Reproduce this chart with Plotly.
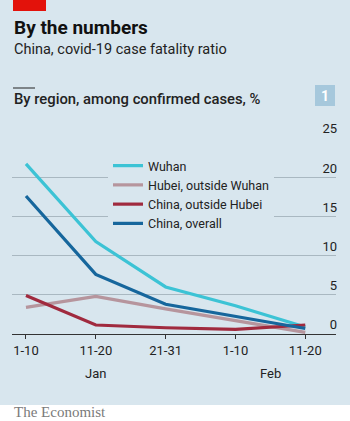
import plotly.graph_objects as go

periods = ["1-10", "11-20", "21-31", "1-10", "11-20"]
months = ["Jan", "Feb"]
month_pos = [1, 3.5]

wuhan = [21.7, 11.8, 6.0, 3.6, 0.9]
hubei_outside_wuhan = [3.4, 4.8, 3.2, 1.7, 0.2]
china_outside_hubei = [4.9, 1.15, 0.8, 0.6, 1.15]
china_overall = [17.6, 7.6, 3.8, 2.3, 0.7]

series_names = ["Wuhan", "Hubei, outside Wuhan", "China, outside Hubei", "China, overall"]
series_values = [wuhan, hubei_outside_wuhan, china_outside_hubei, china_overall]
series_colors = ["#3cc3d5", "#b6959d", "#a02a3e", "#16669c"]

y_ticks = [0, 5, 10, 15, 20, 25]

BG = "#d8e6ee"
TXT = "#222222"
FONT = "Roboto"

W, H = 350, 421
L, R, T, B = 12, 14, 138, 87
plot_top, plot_bot = T, H - B
plot_left, plot_right = L, W - R


def px(p):
    return (p - plot_left) / (plot_right - plot_left)


def py(p):
    return (plot_bot - p) / (plot_bot - plot_top)


x = list(range(len(periods)))

fig = go.Figure()
for name, vals, col in zip(series_names, series_values, series_colors):
    fig.add_trace(go.Scatter(x=x, y=vals, name=name, mode="lines",
                             line=dict(color=col, width=3.2), hoverinfo="skip"))

shapes = [
    # white footer band
    dict(type="rect", xref="paper", yref="paper", x0=px(-5), x1=px(W + 5),
         y0=py(405), y1=py(H + 5), fillcolor="white", line=dict(width=0), layer="below"),
    # red bar
    dict(type="rect", xref="paper", yref="paper", x0=px(13), x1=px(46),
         y0=py(0), y1=py(11), fillcolor="#e3120b", line=dict(width=0)),
    # short rule
    dict(type="line", xref="paper", yref="paper", x0=px(13), x1=px(35),
         y0=py(88), y1=py(88), line=dict(color=TXT, width=1)),
    # number box
    dict(type="rect", xref="paper", yref="paper", x0=px(315), x1=px(335),
         y0=py(85), y1=py(106), fillcolor="#a6c8dc", line=dict(width=0)),
]

annotations = [
    dict(text="<b>By the numbers</b>", x=px(12), y=py(27), xref="paper", yref="paper",
         xanchor="left", yanchor="middle", showarrow=False,
         font=dict(family=FONT, size=19, color="#111")),
    dict(text="China, covid-19 case fatality ratio", x=px(12), y=py(50), xref="paper", yref="paper",
         xanchor="left", yanchor="middle", showarrow=False,
         font=dict(family=FONT, size=14.5, color=TXT)),
    dict(text="By region, among confirmed cases, %", x=px(12), y=py(99), xref="paper", yref="paper",
         xanchor="left", yanchor="middle", showarrow=False,
         font=dict(family=FONT, size=14.8, color=TXT, weight=500)),
    dict(text="<b>1</b>", x=px(325), y=py(95.5), xref="paper", yref="paper",
         xanchor="center", yanchor="middle", showarrow=False,
         font=dict(family=FONT, size=14, color="white")),
    dict(text="The Economist", x=px(12), y=py(411.5), xref="paper", yref="paper",
         xanchor="left", yanchor="middle", showarrow=False,
         font=dict(family="Liberation Serif", size=15, color="#7a7a7a")),
]
for m, pos in zip(months, month_pos):
    annotations.append(dict(text=m, x=pos, y=py(373), xref="x", yref="paper",
                            xanchor="center", yanchor="middle", showarrow=False,
                            font=dict(family=FONT, size=13, color=TXT)))

fig.update_layout(
    width=W, height=H,
    margin=dict(l=L, r=R, t=T, b=B, pad=0),
    paper_bgcolor=BG, plot_bgcolor=BG,
    font=dict(family=FONT, size=13, color=TXT),
    showlegend=True,
    legend=dict(x=px(108), y=py(151), xanchor="left", yanchor="top",
                bgcolor=BG, borderwidth=0, itemwidth=30,
                font=dict(family=FONT, size=12.5, color=TXT), itemclick=False),
    shapes=shapes,
    annotations=annotations,
    xaxis=dict(range=[-0.2, 4.44], tickvals=x, ticktext=periods,
               showgrid=False, zeroline=False, showline=True, linecolor="#333",
               linewidth=1, ticks="outside", ticklen=4, tickcolor="#333", tickwidth=1,
               tickfont=dict(family=FONT, size=13, color=TXT), fixedrange=True),
    yaxis=dict(range=[0, 25], tickvals=y_ticks, side="right",
               ticklabelposition="inside top", ticklabeloverflow="allow",
               ticklabelstandoff=-4,
               showgrid=True, gridcolor="#a9b8c1", gridwidth=1,
               zeroline=False, showline=False, ticks="",
               tickfont=dict(family=FONT, size=13, color=TXT), fixedrange=True),
)

fig.write_html("out.html", config=dict(displayModeBar=False))
